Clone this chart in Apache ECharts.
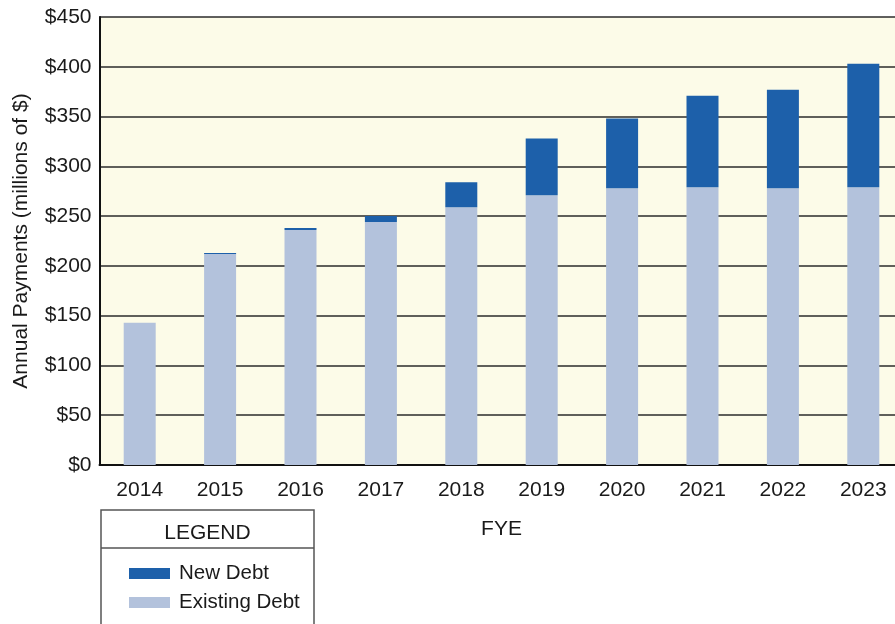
<!DOCTYPE html>
<html>
<head>
<meta charset="utf-8">
<script src="https://cdn.jsdelivr.net/npm/echarts@6/dist/echarts.min.js"></script>
<style>
  html, body { margin: 0; padding: 0; background: #ffffff; }
  #chart { width: 895px; height: 624px; }
</style>
</head>
<body>
<div id="chart"></div>
<script>
// Fiscal years on the horizontal axis
const years = ['2014', '2015', '2016', '2017', '2018', '2019', '2020', '2021', '2022', '2023'];
// Annual debt service, millions of dollars
const existingDebt = [143, 212, 236, 244, 259, 271, 278, 279, 278, 279];
const newDebt = [0, 1, 2, 6, 25, 57, 70, 92, 99, 124];
// Value axis ticks
const yTicks = [0, 50, 100, 150, 200, 250, 300, 350, 400, 450];

const FONT = 'Liberation Sans, Arial, Helvetica, sans-serif';
const INK = '#1a1a1a';
const FS = 21;

const chart = echarts.init(document.getElementById('chart'), null, { renderer: 'canvas' });

chart.setOption({
  animation: false,
  backgroundColor: '#ffffff',
  grid: {
    left: 99.5,
    top: 17,
    width: 804,
    bottom: 159,
    show: true,
    backgroundColor: '#fcfbe8',
    borderWidth: 0,
    containLabel: false,
    outerBoundsMode: 'none'
  },
  legend: {
    data: ['New Debt', 'Existing Debt'],
    orient: 'vertical',
    left: 124,
    top: 558,
    icon: 'rect',
    itemWidth: 41,
    itemHeight: 11,
    itemGap: 8,
    selectedMode: false,
    textStyle: {
      fontFamily: FONT,
      fontSize: 20.5,
      color: INK,
      lineHeight: 21,
      padding: [0, 0, 0, 4]
    }
  },
  graphic: [
    {
      type: 'rect',
      shape: { x: 101, y: 510, width: 213, height: 130 },
      style: { fill: '#ffffff', stroke: '#555555', lineWidth: 1.5 },
      z: 0
    },
    {
      type: 'line',
      shape: { x1: 101, y1: 548, x2: 314, y2: 548 },
      style: { stroke: '#555555', lineWidth: 1.5 },
      z: 1
    },
    {
      type: 'text',
      x: 207.5,
      y: 533,
      style: {
        text: 'LEGEND',
        fontFamily: FONT,
        fontSize: FS,
        fill: INK,
        align: 'center',
        verticalAlign: 'middle'
      },
      z: 1
    }
  ],
  xAxis: {
    type: 'category',
    data: years,
    name: 'FYE',
    nameLocation: 'middle',
    nameGap: 54,
    nameTextStyle: { fontFamily: FONT, fontSize: FS, color: INK },
    axisLine: { show: true, lineStyle: { color: '#111111', width: 2 } },
    axisTick: { show: false },
    axisLabel: { fontFamily: FONT, fontSize: FS, color: INK, margin: 15 }
  },
  yAxis: {
    type: 'value',
    min: yTicks[0],
    max: yTicks[yTicks.length - 1],
    interval: yTicks[1] - yTicks[0],
    name: 'Annual Payments (millions of $)',
    nameLocation: 'middle',
    nameGap: 68,
    nameTextStyle: { fontFamily: FONT, fontSize: FS, color: INK },
    axisLine: { show: true, lineStyle: { color: '#111111', width: 2 } },
    axisTick: { show: false },
    axisLabel: {
      fontFamily: FONT,
      fontSize: FS,
      color: INK,
      margin: 8,
      formatter: v => '$' + v
    },
    splitLine: { show: true, lineStyle: { color: '#2b2b2b', width: 1.5 } }
  },
  series: [
    {
      name: 'Existing Debt',
      type: 'bar',
      stack: 'debt',
      data: existingDebt,
      barWidth: 32,
      itemStyle: { color: '#b3c2dc' }
    },
    {
      name: 'New Debt',
      type: 'bar',
      stack: 'debt',
      data: newDebt,
      barWidth: 32,
      itemStyle: { color: '#1d60aa' }
    }
  ]
});
</script>
</body>
</html>
